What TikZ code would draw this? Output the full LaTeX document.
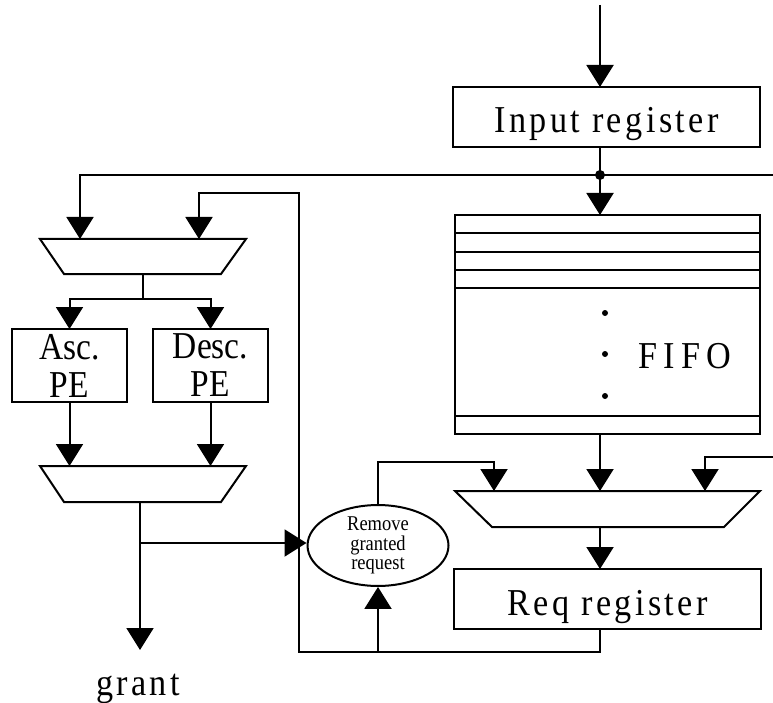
\documentclass[tikz,border=0pt]{standalone}
\usepackage{fontspec}
\setmainfont{Liberation Serif}
\newfontfamily\narrowfont[FakeStretch=0.88]{Liberation Serif}
\newfontfamily\spacedfont[LetterSpace=9,FakeStretch=0.9]{Liberation Serif}
\newfontfamily\widefont[LetterSpace=16,FakeStretch=0.9]{Liberation Serif}
\usetikzlibrary{arrows.meta,shapes.geometric}

\begin{document}
\begin{tikzpicture}[x=1pt, y=-1pt, line width=2pt,
  arr/.style={-{Triangle[length=22pt,width=27pt]}}]
  \useasboundingbox (0,0) rectangle (773,703);

  \tikzset{
    reg/.style={draw, rectangle, inner sep=0pt, outer sep=0pt, minimum width=307pt, minimum height=60pt,
      font=\spacedfont\fontsize{38}{40}\selectfont, text height=34pt, text depth=2pt},
    pe/.style={draw, rectangle, inner sep=0pt, outer sep=0pt, minimum width=115pt, minimum height=73pt,
      align=center, font=\narrowfont\fontsize{38}{38}\selectfont}
  }

  % Request path on the right: input register, FIFO, selector, request register.
  \node[reg] (inreg) at (606.5,117) {Input register};
  \node[draw, inner sep=0pt, outer sep=0pt, minimum width=305pt, minimum height=219pt] (fifo) at (607.5,324.5) {};
  \foreach \y in {233,252,270,288,416}
    \draw (fifo.west |- 0,\y) -- (fifo.east |- 0,\y);
  \foreach \y in {313,354,396}
    \fill (605,\y) circle (3pt);
  \node[font=\widefont\fontsize{38}{40}\selectfont, anchor=base] (fifolbl) at (685,368) {FIFO};
  \draw (455,491) -- (760,491) -- (724,527) -- (492,527) -- cycle;
  \coordinate (mux3n) at (600,491);
  \coordinate (mux3s) at (600,527);
  \node[reg] (req) at (607.5,599) {Req register};

  % Arbiter on the left: two priority encoders between two selectors.
  \draw (40,239) -- (246,239) -- (221,274) -- (64,274) -- cycle;
  \coordinate (mux1n) at (143,239);
  \coordinate (mux1s) at (143,274);
  \node[pe] (asc) at (69.5,365.5) {Asc.\\PE};
  \node[pe] (desc) at (210.5,365.5) {Desc.\\PE};
  \draw (40,466) -- (246,466) -- (221,502) -- (64,502) -- cycle;
  \coordinate (mux2n) at (143,466);
  \coordinate (mux2s) at (140,502);
  \node[draw, ellipse, inner sep=0pt, minimum width=141pt, minimum height=77pt, align=center,
    font=\narrowfont\fontsize{21}{19.5}\selectfont] (rem) at (378,545.5) {Remove\\granted\\request};
  \node[font=\spacedfont\fontsize{38}{40}\selectfont, anchor=base] (grant) at (138,695) {grant};

  % Bends and free ends of the wires.
  \coordinate (in) at (600,5);
  \coordinate (split) at (600,175);
  \coordinate (busR) at (773,175);
  \coordinate (busL) at (80,175);
  \coordinate (rin) at (773,457);
  \coordinate (rinT) at (705,457);
  \coordinate (remT) at (494,462);
  \coordinate (loopBR) at (600,652);
  \coordinate (loopBL) at (299,652);
  \coordinate (loopTL) at (299,193);
  \coordinate (loopTR) at (199,193);
  \coordinate (tapB) at (378,652);
  \coordinate (fork) at (143,299);
  \coordinate (gsplit) at (140,543);
  \coordinate (gend) at (140,650);

  \draw[arr] (in) -- (in |- inreg.north);
  \draw (inreg.south -| split) -- (split);
  \draw[arr] (split) -- (split |- fifo.north);
  \fill (split) circle (5pt);
  \draw[arr] (busR) -- (busL) -- (busL |- mux1n);
  \draw[arr] (fifo.south -| split) -- (mux3n);
  \draw[arr] (rin) -- (rinT) -- (rinT |- mux3n);
  \draw[arr] (mux3s) -- (split |- req.north);

  % Register output loops back to the arbiter and to the remover.
  \draw[arr] (req.south -| loopBR) -- (loopBR) -- (loopBL) -- (loopTL) -- (loopTR) -- (loopTR |- mux1n);
  \draw[arr] (tapB) -- (rem.south);
  \draw[arr] (rem.north) |- (remT) -- (remT |- mux3n);

  \draw (mux1s) -- (fork);
  \draw[arr] (fork) -| (asc.north);
  \draw[arr] (fork) -| (desc.north);
  \draw[arr] (asc.south) -- (asc.south |- mux2n);
  \draw[arr] (desc.south) -- (desc.south |- mux2n);
  \draw[arr] (mux2s) -- (gend);
  \draw[arr] (gsplit) -- (gsplit -| rem.west);
\end{tikzpicture}
\end{document}
